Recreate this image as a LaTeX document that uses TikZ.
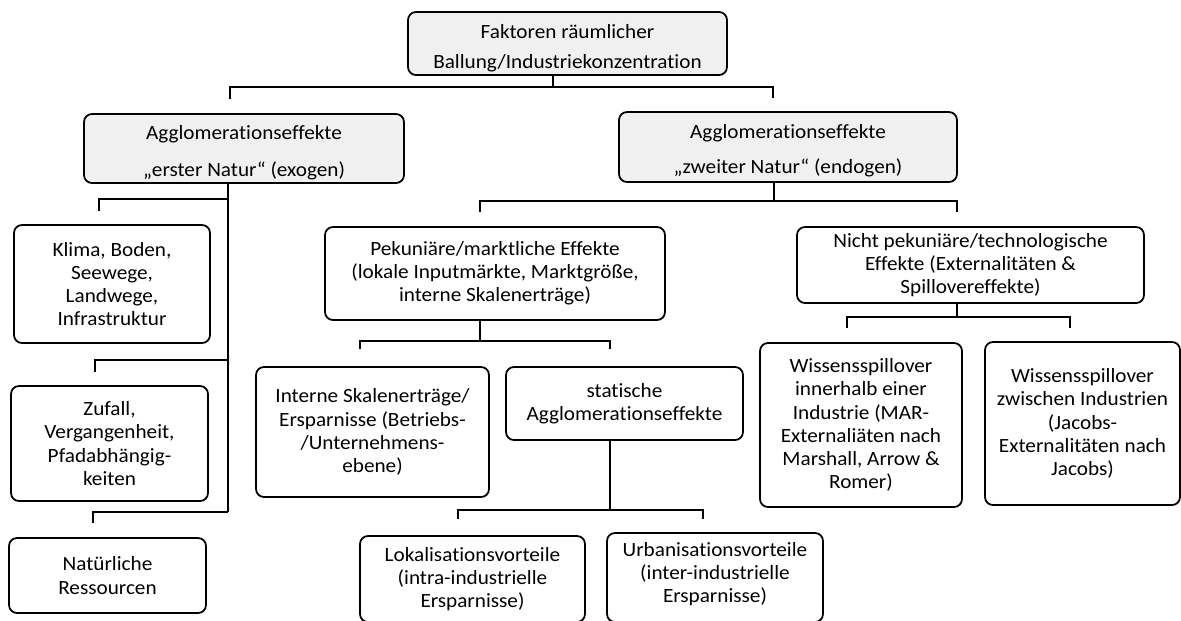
\documentclass[tikz,border=0pt]{standalone}
\usepackage{fontspec}
\setmainfont{Carlito}[Ligatures=NoCommon,FakeStretch=1.05]
\begin{document}
\begin{tikzpicture}[x=0.02cm,y=-0.02cm,
  box/.style={draw=black,line width=1pt,rounded corners=4.5pt,align=center,inner sep=0pt,
    font=\fontsize{11.5}{13.2}\selectfont},
  graybox/.style={box,fill=black!6},
  plain/.style={align=center,inner sep=0pt,font=\fontsize{11.5}{13.2}\selectfont},
  conn/.style={draw=black,line width=1.1pt},
  trunk/.style={draw=black,line width=1.5pt}]
\useasboundingbox (0,0) rectangle (1181,620);

% gray boxes with their texts
\node[graybox,minimum width=6.38cm,minimum height=1.26cm] (top) at (567.5,43.5) {};
\node[plain] (topt) at (567.5,48.5) {Faktoren räumlicher\\[3.8pt]Ballung/Industriekonzentration};
\node[graybox,minimum width=6.40cm,minimum height=1.38cm] (A1) at (244,148.5) {};
\node[plain] (A1t) at (244,153) {Agglomerationseffekte\\[7.8pt]„erster Natur“ (exogen)};
\node[graybox,minimum width=6.76cm,minimum height=1.40cm] (A2) at (788,147) {};
\node[plain] (A2t) at (788,150.5) {Agglomerationseffekte\\[6.8pt]„zweiter Natur“ (endogen)};

% white boxes
\node[box,minimum width=3.92cm,minimum height=2.36cm] (klima) at (112,284)
  {Klima, Boden,\\Seewege,\\Landwege,\\Infrastruktur};
\node[box,minimum width=3.94cm,minimum height=2.30cm] (zufall) at (109.5,443.5)
  {Zufall,\\Vergangenheit,\\Pfadabhängig-\\keiten};
\node[box,minimum width=3.94cm,minimum height=1.50cm] (natur) at (107.5,575.5)
  {Natürliche\\Ressourcen};
\node[box,minimum width=6.80cm,minimum height=1.86cm] (pek) at (495,273.5)
  {Pekuniäre/marktliche Effekte\\(lokale Inputmärkte, Marktgröße,\\interne Skalenerträge)};
\node[box,minimum width=6.94cm,minimum height=1.52cm] (nicht) at (970.5,265)
  {Nicht pekuniäre/technologische\\Effekte (Externalitäten \&\\Spillovereffekte)};
\node[box,minimum width=4.66cm,minimum height=2.60cm] (intern) at (372.5,432)
  {Interne Skalenerträge/\\Ersparnisse (Betriebs-\\/Unternehmens-\\ebene)};
\node[box,minimum width=4.74cm,minimum height=1.46cm] (stat) at (624.5,403.5)
  {statische\\Agglomerationseffekte};
\node[box,minimum width=4.50cm,minimum height=1.72cm] (lokal) at (472.5,579)
  {Lokalisationsvorteile\\(intra-industrielle\\Ersparnisse)};
\node[box,minimum width=4.32cm,minimum height=1.78cm] (urban) at (715,577.5) {};
\node[plain] (urbant) at (715,574)
  {Urbanisationsvorteile\\(inter-industrielle\\Ersparnisse)};
\node[box,minimum width=4.04cm,minimum height=3.28cm] (wiss1) at (861,425)
  {Wissensspillover\\innerhalb einer\\Industrie (MAR-\\Externaliäten nach\\Marshall, Arrow \&\\Romer)};
\node[box,minimum width=3.90cm,minimum height=3.26cm] (wiss2) at (1082.5,423.5)
  {Wissensspillover\\zwischen Industrien\\(Jacobs-\\Externalitäten nach\\Jacobs)};

% bracket coordinates
\coordinate (tj) at (553,87);  \coordinate (tl) at (230,99);  \coordinate (tr) at (773,98);
\coordinate (a1e) at (228,512);
\coordinate (a1j1) at (228,199); \coordinate (a1d1) at (99,211);
\coordinate (a1j2) at (228,360); \coordinate (a1d2) at (95,372);
\coordinate (a1d3) at (93,523);
\coordinate (a2j) at (774,201); \coordinate (a2l) at (480,212); \coordinate (a2r) at (957,212);
\coordinate (pj) at (480,341);  \coordinate (pl) at (360,349);  \coordinate (pr) at (610,349);
\coordinate (sj) at (610,510);  \coordinate (sl) at (458,519);  \coordinate (sr) at (703,519);
\coordinate (nj) at (957,317);  \coordinate (nl) at (847,328);  \coordinate (nr) at (1070,328);

% connectors
\draw[trunk] (top.south -| tj) -- (tj);
\draw[conn] (tl) |- (tj) -| (tr);

\draw[trunk] (A1.south -| a1e) -- (a1e);
\draw[conn] (a1d1) |- (a1j1);
\draw[conn] (a1d2) |- (a1j2);
\draw[conn] (a1d3) |- (a1e);

\draw[trunk] (A2.south -| a2j) -- (a2j);
\draw[conn] (a2l) |- (a2j) -| (a2r);

\draw[trunk] (pek.south -| pj) -- (pj);
\draw[conn] (pl) |- (pj) -| (pr);

\draw[trunk] (stat.south -| sj) -- (sj);
\draw[conn] (sl) |- (sj) -| (sr);

\draw[trunk] (nicht.south -| nj) -- (nj);
\draw[conn] (nl) |- (nj) -| (nr);
\end{tikzpicture}
\end{document}
